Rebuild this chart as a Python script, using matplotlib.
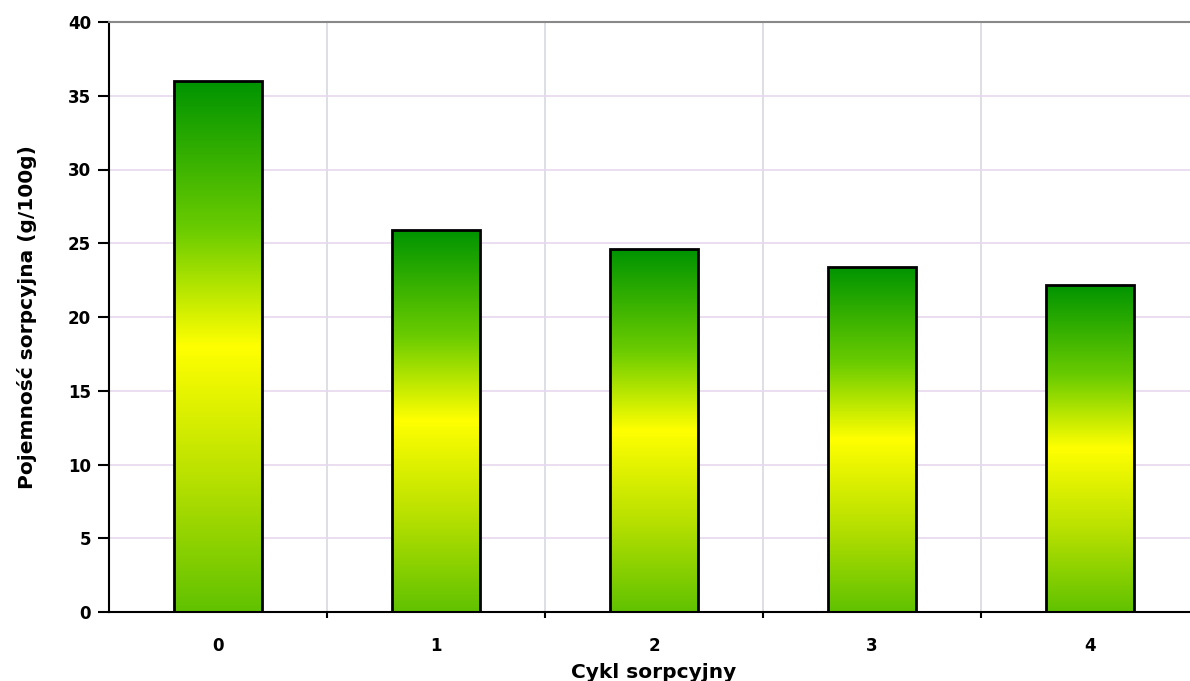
import numpy as np
import matplotlib
matplotlib.use("Agg")
import matplotlib.pyplot as plt
from matplotlib.colors import LinearSegmentedColormap

cycles = ["0", "1", "2", "3", "4"]
capacity = [36.0, 25.9, 24.6, 23.4, 22.2]

plt.rcParams['font.family'] = ['DejaVu Sans']
plt.rcParams['font.weight'] = 'bold'

fig = plt.figure(figsize=(11.9, 6.81), dpi=100)
ax = fig.add_axes([109/1190, 1 - 612/681, 1090/1190, 590/681])

x = np.arange(len(cycles))
bars = ax.bar(x, capacity, width=0.4, color='none', edgecolor='black',
              linewidth=2, zorder=3)

# vertical gradient green - yellow - green
cmap = LinearSegmentedColormap.from_list(
    'gy', [(0.0, (0.38, 0.76, 0.0)), (0.25, (0.72, 0.88, 0.0)),
           (0.5, (1.0, 1.0, 0.0)), (0.72, (0.42, 0.80, 0.0)),
           (1.0, (0.0, 0.58, 0.0))])
grad = np.linspace(0, 1, 256).reshape(-1, 1)
for b in bars:
    bx, by = b.get_x(), b.get_y()
    w, h = b.get_width(), b.get_height()
    im = ax.imshow(grad, cmap=cmap, origin='lower', aspect='auto',
                   extent=[bx, bx + w, by, by + h], zorder=2)
    im.set_clip_path(b)

ax.set_xlim(-0.5, 4.5)
ax.set_ylim(0, 40)
ax.set_yticks(np.arange(0, 41, 5))
ax.set_xticks(x)
ax.set_xticklabels(cycles)
ax.set_xticks(np.arange(0.5, 4.5, 1), minor=True)

ax.grid(axis='y', color='#e6d8ee', linewidth=1.2, zorder=0)
ax.grid(axis='x', which='minor', color='#d8d8e0', linewidth=1.2, zorder=0)
ax.set_axisbelow(True)

ax.spines['right'].set_visible(False)
ax.spines['top'].set_color('#888888')
ax.spines['top'].set_linewidth(1.5)
ax.spines['left'].set_linewidth(1.5)
ax.spines['bottom'].set_linewidth(1.5)

ax.tick_params(axis='y', direction='out', length=8, width=1.5, labelsize=12, pad=5)
ax.tick_params(axis='x', which='major', length=0, labelsize=12, pad=18)
ax.tick_params(axis='x', which='minor', direction='out', length=4, width=1.5)

ax.set_ylabel("Pojemność sorpcyjna (g/100g)", fontsize=14.5, fontweight='bold', labelpad=22)
ax.set_xlabel("Cykl sorpcyjny", fontsize=14.5, fontweight='bold', labelpad=6)

plt.savefig("out.png", dpi=100)
